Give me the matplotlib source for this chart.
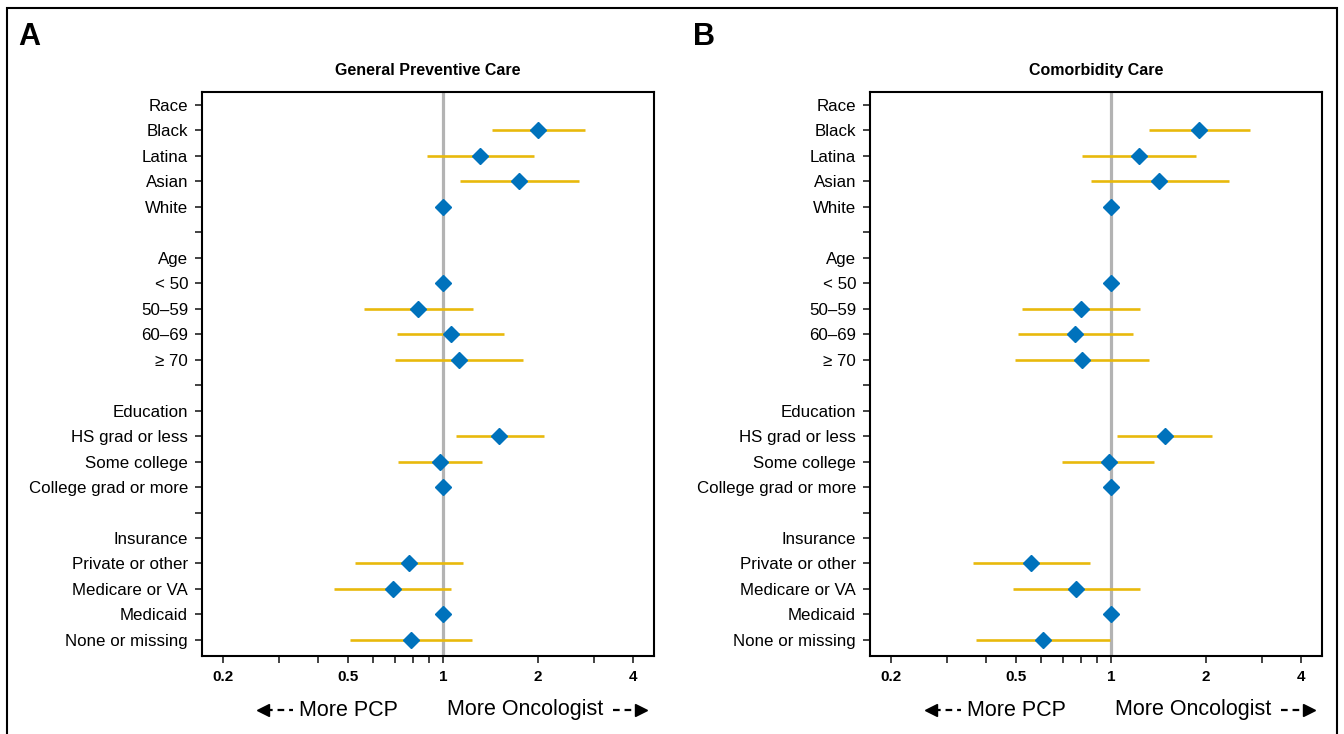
import numpy as np
import matplotlib
matplotlib.use('Agg')
import matplotlib.pyplot as plt
from matplotlib.lines import Line2D
from matplotlib.patches import Rectangle
from matplotlib.ticker import FixedLocator, NullFormatter

plt.rcParams['font.family'] = ['Liberation Sans', 'DejaVu Sans']

nan = np.nan

# row labels, top to bottom (blank rows separate the groups)
labels = ['Race', 'Black', 'Latina', 'Asian', 'White', '',
          'Age', '< 50', '50\u201359', '60\u201369', '\u2265 70', '',
          'Education', 'HS grad or less', 'Some college', 'College grad or more', '',
          'Insurance', 'Private or other', 'Medicare or VA', 'Medicaid', 'None or missing']

# panel A: general preventive care (odds ratio and 95% CI)
prev_or = [nan, 2.00, 1.31, 1.74, 1.00, nan, nan, 1.00, 0.83, 1.055, 1.12, nan,
           nan, 1.50, 0.976, 1.00, nan, nan, 0.777, 0.69, 1.00, 0.79]
prev_lo = [nan, 1.43, 0.888, 1.127, nan, nan, nan, nan, 0.562, 0.713, 0.70, nan,
           nan, 1.10, 0.717, nan, nan, nan, 0.524, 0.451, nan, 0.506]
prev_hi = [nan, 2.81, 1.94, 2.69, nan, nan, nan, nan, 1.24, 1.56, 1.79, nan,
           nan, 2.08, 1.33, nan, nan, nan, 1.157, 1.06, nan, 1.23]

# panel B: comorbidity care
comorb_or = [nan, 1.90, 1.22, 1.42, 1.00, nan, nan, 1.00, 0.80, 0.767, 0.809, nan,
             nan, 1.477, 0.981, 1.00, nan, nan, 0.556, 0.774, 1.00, 0.608]
comorb_lo = [nan, 1.32, 0.807, 0.86, nan, nan, nan, nan, 0.522, 0.505, 0.496, nan,
             nan, 1.04, 0.699, nan, nan, nan, 0.365, 0.488, nan, 0.373]
comorb_hi = [nan, 2.76, 1.85, 2.36, nan, nan, nan, nan, 1.23, 1.17, 1.32, nan,
             nan, 2.09, 1.37, nan, nan, nan, 0.854, 1.23, nan, 0.99]

major_ticks = [0.2, 0.5, 1, 2, 4]
major_labels = ['0.2', '0.5', '1', '2', '4']
minor_ticks = [0.3, 0.4, 0.6, 0.7, 0.8, 0.9, 3]

BLUE = '#0072bc'
GOLD = '#e8b90c'
GRAY = '#b3b3b3'


# draw one forest panel
def forest(ax, title, odds, lo, hi):
    y = np.arange(len(labels))
    ax.axvline(1, color=GRAY, lw=2.3, zorder=1)
    ax.hlines(y, lo, hi, color=GOLD, lw=1.9, zorder=2)
    ax.plot(odds, y, linestyle='none', marker='D', ms=8.3,
            color=BLUE, mec=BLUE, zorder=3)

    ax.set_xscale('log')
    ax.set_xlim(0.1715, 4.66)
    ax.set_ylim(len(labels) - 1 + 0.63, -0.5)

    ax.xaxis.set_major_locator(FixedLocator(major_ticks))
    ax.set_xticklabels(major_labels, fontweight='bold', fontsize=11)
    ax.xaxis.set_minor_locator(FixedLocator(minor_ticks))
    ax.xaxis.set_minor_formatter(NullFormatter())
    ax.tick_params(axis='x', which='both', length=5, width=1.2, pad=5, color='#222222')

    ax.set_yticks(y)
    ax.set_yticklabels(labels, fontsize=12.2)
    ax.tick_params(axis='y', length=5, width=1.2, pad=5, color='#222222')

    for s in ax.spines.values():
        s.set_linewidth(1.5)
    ax.set_title(title, fontweight='bold', fontsize=11.5, pad=12)


fig = plt.figure(figsize=(13.44, 7.34), dpi=100)

W, H = 1344, 734
ax_a = fig.add_axes([202 / W, 1 - 656 / H, 452 / W, 564 / H])
ax_b = fig.add_axes([870 / W, 1 - 656 / H, 452 / W, 564 / H])

forest(ax_a, 'General Preventive Care', prev_or, prev_lo, prev_hi)
forest(ax_b, 'Comorbidity Care', comorb_or, comorb_lo, comorb_hi)

# outer frame
fig.patches.append(Rectangle((7 / W, -0.05), 1330 / W, 1.05 - 8 / H,
                             transform=fig.transFigure, fill=False,
                             lw=1.5, ec='black', clip_on=False))

# panel letters
fig.text(18 / W, 1 - 37 / H, 'A', fontsize=22, fontweight='bold', va='center', ha='left')
fig.text(693 / W, 1 - 37 / H, 'B', fontsize=22, fontweight='bold', va='center', ha='left')


# direction labels under each panel
def direction(x0):
    yy = 1 - 710 / H
    fig.text((x0 + 299) / W, yy, 'More PCP', fontsize=15.5,
             ha='left', va='center')
    fig.text((x0 + 447) / W, yy, 'More Oncologist', fontsize=15.5,
             ha='left', va='center')
    fig.lines.append(Line2D([(x0 + 266) / W, (x0 + 293) / W], [yy, yy],
                            transform=fig.transFigure, color='black', lw=1.6,
                            ls=(0, (3, 2.2))))
    fig.lines.append(Line2D([(x0 + 263) / W], [yy], transform=fig.transFigure,
                            marker='<', ms=8, color='black', mec='black'))
    fig.lines.append(Line2D([(x0 + 613) / W, (x0 + 640) / W], [yy, yy],
                            transform=fig.transFigure, color='black', lw=1.6,
                            ls=(0, (3, 2.2))))
    fig.lines.append(Line2D([(x0 + 641) / W], [yy], transform=fig.transFigure,
                            marker='>', ms=8, color='black', mec='black'))


direction(0)
direction(668)

fig.savefig('out.png', dpi=100)
